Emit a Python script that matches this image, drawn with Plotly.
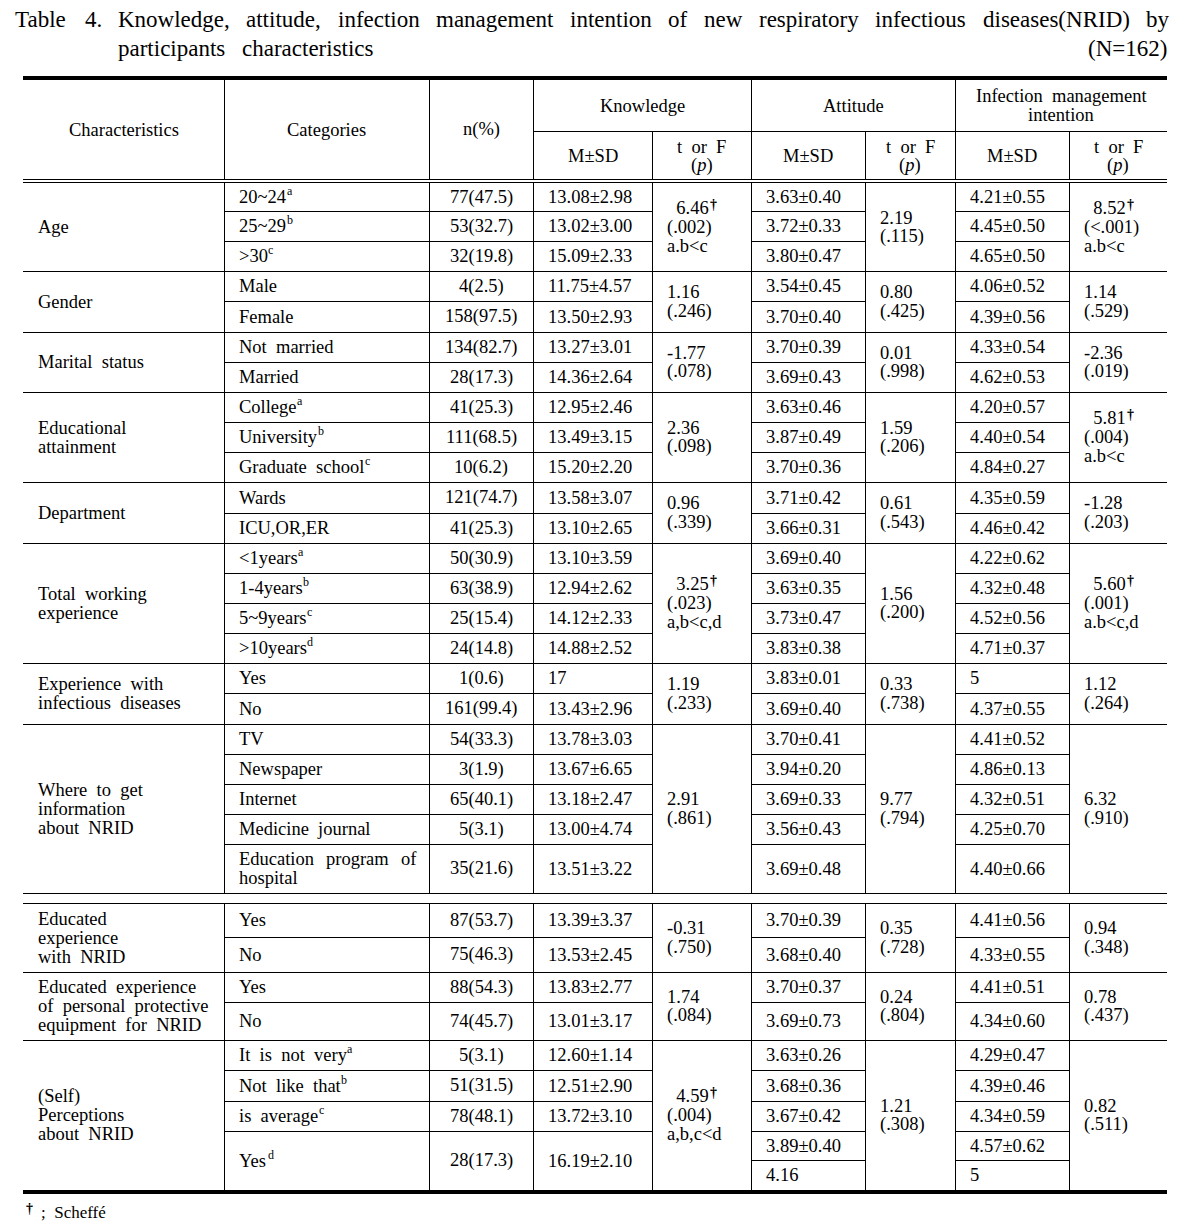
import plotly.graph_objects as go

# ---------------- data ----------------
title_line1 = "Table 4. Knowledge, attitude, infection management intention of new respiratory infectious diseases(NRID) by"
title_line2 = "participants characteristics"
title_n = "(N=162)"
footnote_mark = "†"
footnote_text = "; Scheffé"

header_main = ["Characteristics", "Categories", "n(%)"]
header_groups = ["Knowledge", "Attitude", "Infection management\nintention"]
header_stats = ["M±SD", "t or F\n(p)"]

characteristics = [
    "Age", "Gender", "Marital status", "Educational\nattainment", "Department",
    "Total working\nexperience", "Experience with\ninfectious diseases",
    "Where to get\ninformation\nabout NRID", "Educated\nexperience\nwith NRID",
    "Educated experience\nof personal protective\nequipment for NRID",
    "(Self)\nPerceptions\nabout NRID",
]

categories = [
    ["20~24", "25~29", ">30"],
    ["Male", "Female"],
    ["Not married", "Married"],
    ["College", "University", "Graduate school"],
    ["Wards", "ICU,OR,ER"],
    ["<1years", "1-4years", "5~9years", ">10years"],
    ["Yes", "No"],
    ["TV", "Newspaper", "Internet", "Medicine journal", "Education program of\nhospital"],
    ["Yes", "No"],
    ["Yes", "No"],
    ["It is not very", "Not like that", "is average", "Yes"],
]
category_marks = [
    ["a", "b", "c"], ["", ""], ["", ""], ["a", "b", "c"], ["", ""],
    ["a", "b", "c", "d"], ["", ""], ["", "", "", "", ""], ["", ""], ["", ""],
    ["a", "b", "c", "d"],
]

n_pct = [
    ["77(47.5)", "53(32.7)", "32(19.8)"],
    ["4(2.5)", "158(97.5)"],
    ["134(82.7)", "28(17.3)"],
    ["41(25.3)", "111(68.5)", "10(6.2)"],
    ["121(74.7)", "41(25.3)"],
    ["50(30.9)", "63(38.9)", "25(15.4)", "24(14.8)"],
    ["1(0.6)", "161(99.4)"],
    ["54(33.3)", "3(1.9)", "65(40.1)", "5(3.1)", "35(21.6)"],
    ["87(53.7)", "75(46.3)"],
    ["88(54.3)", "74(45.7)"],
    ["5(3.1)", "51(31.5)", "78(48.1)", "28(17.3)"],
]

knowledge_msd = [
    ["13.08±2.98", "13.02±3.00", "15.09±2.33"],
    ["11.75±4.57", "13.50±2.93"],
    ["13.27±3.01", "14.36±2.64"],
    ["12.95±2.46", "13.49±3.15", "15.20±2.20"],
    ["13.58±3.07", "13.10±2.65"],
    ["13.10±3.59", "12.94±2.62", "14.12±2.33", "14.88±2.52"],
    ["17", "13.43±2.96"],
    ["13.78±3.03", "13.67±6.65", "13.18±2.47", "13.00±4.74", "13.51±3.22"],
    ["13.39±3.37", "13.53±2.45"],
    ["13.83±2.77", "13.01±3.17"],
    ["12.60±1.14", "12.51±2.90", "13.72±3.10", "16.19±2.10"],
]
knowledge_t = [
    ["6.46†", "(.002)", "a.b<c"], ["1.16", "(.246)"], ["-1.77", "(.078)"],
    ["2.36", "(.098)"], ["0.96", "(.339)"], ["3.25†", "(.023)", "a,b<c,d"],
    ["1.19", "(.233)"], ["2.91", "(.861)"], ["-0.31", "(.750)"],
    ["1.74", "(.084)"], ["4.59†", "(.004)", "a,b,c<d"],
]

attitude_msd = [
    ["3.63±0.40", "3.72±0.33", "3.80±0.47"],
    ["3.54±0.45", "3.70±0.40"],
    ["3.70±0.39", "3.69±0.43"],
    ["3.63±0.46", "3.87±0.49", "3.70±0.36"],
    ["3.71±0.42", "3.66±0.31"],
    ["3.69±0.40", "3.63±0.35", "3.73±0.47", "3.83±0.38"],
    ["3.83±0.01", "3.69±0.40"],
    ["3.70±0.41", "3.94±0.20", "3.69±0.33", "3.56±0.43", "3.69±0.48"],
    ["3.70±0.39", "3.68±0.40"],
    ["3.70±0.37", "3.69±0.73"],
    ["3.63±0.26", "3.68±0.36", "3.67±0.42", ["3.89±0.40", "4.16"]],
]
attitude_t = [
    ["2.19", "(.115)"], ["0.80", "(.425)"], ["0.01", "(.998)"], ["1.59", "(.206)"],
    ["0.61", "(.543)"], ["1.56", "(.200)"], ["0.33", "(.738)"], ["9.77", "(.794)"],
    ["0.35", "(.728)"], ["0.24", "(.804)"], ["1.21", "(.308)"],
]

infection_msd = [
    ["4.21±0.55", "4.45±0.50", "4.65±0.50"],
    ["4.06±0.52", "4.39±0.56"],
    ["4.33±0.54", "4.62±0.53"],
    ["4.20±0.57", "4.40±0.54", "4.84±0.27"],
    ["4.35±0.59", "4.46±0.42"],
    ["4.22±0.62", "4.32±0.48", "4.52±0.56", "4.71±0.37"],
    ["5", "4.37±0.55"],
    ["4.41±0.52", "4.86±0.13", "4.32±0.51", "4.25±0.70", "4.40±0.66"],
    ["4.41±0.56", "4.33±0.55"],
    ["4.41±0.51", "4.34±0.60"],
    ["4.29±0.47", "4.39±0.46", "4.34±0.59", ["4.57±0.62", "5"]],
]
infection_t = [
    ["8.52†", "(<.001)", "a.b<c"], ["1.14", "(.529)"], ["-2.36", "(.019)"],
    ["5.81†", "(.004)", "a.b<c"], ["-1.28", "(.203)"], ["5.60†", "(.001)", "a.b<c,d"],
    ["1.12", "(.264)"], ["6.32", "(.910)"], ["0.94", "(.348)"],
    ["0.78", "(.437)"], ["0.82", "(.511)"],
]

# ---------------- layout (positions / styles) ----------------
FONT = "Liberation Serif, Times New Roman, serif"
FONT_B = "Liberation Serif, Times New Roman, serif"
BODY = 18.5
TITLE = 23
SUP = 12
W_PX, H_PX = 1201, 1229
COL = [23, 224, 429, 533, 652, 751, 865, 955, 1069, 1167]
TOP_RULE = (76, 80)
HEAD_MID = 131
HEAD_DBL = (179, 182)
BODY_TOP = 183
ROW_H = [[28, 30, 30], [30, 31], [30, 30], [30, 30, 30], [31, 30],
         [30, 30, 30, 30], [30, 31], [30, 30, 30, 30, 49], [34, 35], [30, 38],
         [30, 31, 30, 59]]
GAP_AFTER = 7
GAP = 10
BOTTOM_RULE_H = 4
PITCH = 19
PAD = 14
NB2 = "\u00a0\u00a0"

AFM = {' ': 250, '\u00a0': 250, '(': 333, ')': 333, ',': 250, '-': 333, '.': 250, '=': 564,
       ';': 278, '<': 564, '>': 564, '±': 564, '~': 541, '†': 500,
       'A': 722, 'B': 667, 'C': 667, 'D': 722, 'E': 611, 'F': 556, 'G': 722, 'H': 722,
       'I': 333, 'J': 389, 'K': 722, 'L': 611, 'M': 889, 'N': 722, 'O': 722, 'P': 556,
       'Q': 722, 'R': 667, 'S': 556, 'T': 611, 'U': 722, 'V': 722, 'W': 944, 'X': 722,
       'Y': 722, 'Z': 611, 'a': 444, 'b': 500, 'c': 444, 'd': 500, 'e': 444, 'f': 333,
       'g': 500, 'h': 500, 'i': 278, 'j': 278, 'k': 500, 'l': 278, 'm': 778, 'n': 500,
       'o': 500, 'p': 500, 'q': 500, 'r': 333, 's': 389, 't': 278, 'u': 500, 'v': 500,
       'w': 722, 'x': 500, 'y': 500, 'z': 444, 'é': 444}


def tw(s, size):
    return sum(AFM.get(c, 500) for c in s) / 1000.0 * size


def esc(s):
    return s.replace("&", "&amp;").replace("<", "&lt;").replace(">", "&gt;")


annotations = []
shapes = []


def ann(x, y, text, size=BODY, xanchor="left", bold=False):
    if bold:
        text = "<b>" + text + "</b>"
    annotations.append(dict(x=x, y=y, xref="x", yref="y", text=text, showarrow=False,
                            xanchor=xanchor, yanchor="middle", borderpad=0, align="left",
                            font=dict(family=FONT, size=size, color="black")))


def put(x, y, raw, xanchor="left", size=BODY, mark=""):
    """Place plain text (double word spacing); optional raised mark after it."""
    raw = raw.replace(" ", NB2)
    dag = raw.endswith("†")
    if dag:
        raw = NB2 + raw[:-1]
        mark = "†"
    ann(x, y, esc(raw), size=size, xanchor=xanchor)
    if mark:
        wpx = tw(raw, size)
        x0 = x if xanchor == "left" else x - wpx / 2
        if dag:
            ann(x0 + wpx + 1, y - 4, mark, size=14, bold=True)
        else:
            ann(x0 + wpx + 0.5, y - 6, mark, size=SUP)


def block(x, ymid, lines, xanchor="left", size=BODY):
    n = len(lines)
    for i, l in enumerate(lines):
        put(x, ymid + (i - (n - 1) / 2) * PITCH, l, xanchor=xanchor, size=size)


def hline(x0, x1, y, w=1):
    shapes.append(dict(type="line", xref="x", yref="y", x0=x0, x1=x1, y0=y + 0.5, y1=y + 0.5,
                       line=dict(color="black", width=w)))


def vline(x, y0, y1, w=1):
    shapes.append(dict(type="line", xref="x", yref="y", x0=x + 0.5, x1=x + 0.5, y0=y0, y1=y1,
                       line=dict(color="black", width=w)))


def rect(x0, x1, y0, y1):
    shapes.append(dict(type="rect", xref="x", yref="y", x0=x0, x1=x1, y0=y0, y1=y1,
                       fillcolor="black", line=dict(width=0)))


def justify(words, x0, x1, y, size):
    widths = [tw(w, size) for w in words]
    gap = (x1 - x0 - sum(widths)) / (len(words) - 1)
    x = x0
    for w, wd in zip(words, widths):
        ann(x, y, esc(w), size=size)
        x += wd + gap
    return gap


# ---------- title ----------
t_words = title_line1.split(" ")
ann(14, 19, esc(t_words[0]), size=TITLE)
ann(84, 19, esc(t_words[1]), size=TITLE)
tgap = justify(t_words[2:], 117, 1168, 19, TITLE)
l2 = title_line2.split(" ")
ann(117, 48, esc(l2[0]), size=TITLE)
ann(117 + tw(l2[0], TITLE) + tgap, 48, esc(l2[1]), size=TITLE)
ann(1168, 48, esc(title_n), size=TITLE, xanchor="right")

# ---------- header ----------
rect(COL[0], COL[-1], TOP_RULE[0], TOP_RULE[1])
head_mid_y = (TOP_RULE[1] + HEAD_DBL[0]) / 2
for i, h in enumerate(header_main):
    put((COL[i] + COL[i + 1]) / 2, head_mid_y, h, xanchor="center")
hline(COL[3], COL[-1], HEAD_MID)
for k, g in enumerate(header_groups):
    c0, c1 = COL[3 + 2 * k], COL[5 + 2 * k]
    block((c0 + c1) / 2, (TOP_RULE[1] + HEAD_MID) / 2, g.split("\n"), xanchor="center")
    for j, st in enumerate(header_stats):
        a, b = COL[3 + 2 * k + j], COL[4 + 2 * k + j]
        lines = st.split("\n")
        ym = (HEAD_MID + HEAD_DBL[0]) / 2 + 1
        n = len(lines)
        for i, l in enumerate(lines):
            yy = ym + (i - (n - 1) / 2) * PITCH
            txt = esc(l.replace(" ", NB2))
            if l == "(p)":
                txt = "(<i>p</i>)"
            ann((a + b) / 2, yy, txt, xanchor="center")
for i in [1, 2, 3, 5, 7]:
    vline(COL[i], TOP_RULE[1], HEAD_DBL[0] + 0.5)
for i in [4, 6, 8]:
    vline(COL[i], HEAD_MID, HEAD_DBL[0] + 0.5)
hline(COL[0], COL[-1], HEAD_DBL[0])
hline(COL[0], COL[-1], HEAD_DBL[1])

# ---------- body ----------
X_CHAR = COL[0] + PAD
X_CAT = COL[1] + PAD
X_KM, X_KT = COL[3] + PAD, COL[4] + PAD
X_AM, X_AT = COL[5] + PAD, COL[6] + PAD
X_IM, X_IT = COL[7] + PAD, COL[8] + PAD

y = BODY_TOP
segments = []
seg_start = y
for g in range(len(characteristics)):
    g_top = y
    tops = []
    for h in ROW_H[g]:
        tops.append(y)
        y += h
    g_bot = y
    gm = (g_top + g_bot) / 2
    block(X_CHAR, gm, characteristics[g].split("\n"))
    for r, h in enumerate(ROW_H[g]):
        rt = tops[r]
        rm = rt + h / 2
        cat_lines = categories[g][r].split("\n")
        if len(cat_lines) > 1:
            justify(cat_lines[0].split(" "), X_CAT, COL[2] - PAD, rm - PITCH / 2, BODY)
            put(X_CAT, rm + PITCH / 2, cat_lines[1])
        else:
            put(X_CAT, rm, cat_lines[0], mark=category_marks[g][r])
        put((COL[2] + COL[3]) / 2, rm, n_pct[g][r], xanchor="center")
        put(X_KM, rm, knowledge_msd[g][r])
        for xc, ci, vals in [(X_AM, 5, attitude_msd), (X_IM, 7, infection_msd)]:
            v = vals[g][r]
            if isinstance(v, list):
                sh = h / len(v)
                for k, vv in enumerate(v):
                    put(xc, rt + sh * (k + 0.5), vv)
                    if k > 0:
                        hline(COL[ci], COL[ci + 1], round(rt + sh * k))
            else:
                put(xc, rm, v)
        if r > 0:
            hline(COL[1], COL[4], rt)
            hline(COL[5], COL[6], rt)
            hline(COL[7], COL[8], rt)
    block(X_KT, gm, knowledge_t[g])
    block(X_AT, gm, attitude_t[g])
    block(X_IT, gm, infection_t[g])
    if g < len(characteristics) - 1:
        hline(COL[0], COL[-1], g_bot)
    if g == GAP_AFTER:
        segments.append((seg_start, g_bot))
        y += GAP
        hline(COL[0], COL[-1], y)
        seg_start = y
segments.append((seg_start, y))
for (s0, s1) in segments:
    for i in range(1, 9):
        vline(COL[i], s0, s1)
rect(COL[0], COL[-1], y, y + BOTTOM_RULE_H)

# ---------- footnote ----------
fy = y + BOTTOM_RULE_H + 18
ann(COL[0] + 2, fy - 4, footnote_mark, size=14, bold=True)
ann(COL[0] + 17, fy, esc(footnote_text.replace(" ", NB2)), size=17)

fig = go.Figure(go.Scatter(x=[], y=[], hoverinfo="skip", showlegend=False))
fig.update_layout(
    width=W_PX, height=H_PX, margin=dict(l=0, r=0, t=0, b=0),
    paper_bgcolor="white", plot_bgcolor="white", hovermode=False, showlegend=False,
    xaxis=dict(range=[0, W_PX], visible=False, fixedrange=True),
    yaxis=dict(range=[H_PX, 0], visible=False, fixedrange=True),
    annotations=annotations, shapes=shapes,
)
fig.write_html("out.html", config={"displayModeBar": False, "staticPlot": True},
               post_script="document.body.style.margin='0';")
